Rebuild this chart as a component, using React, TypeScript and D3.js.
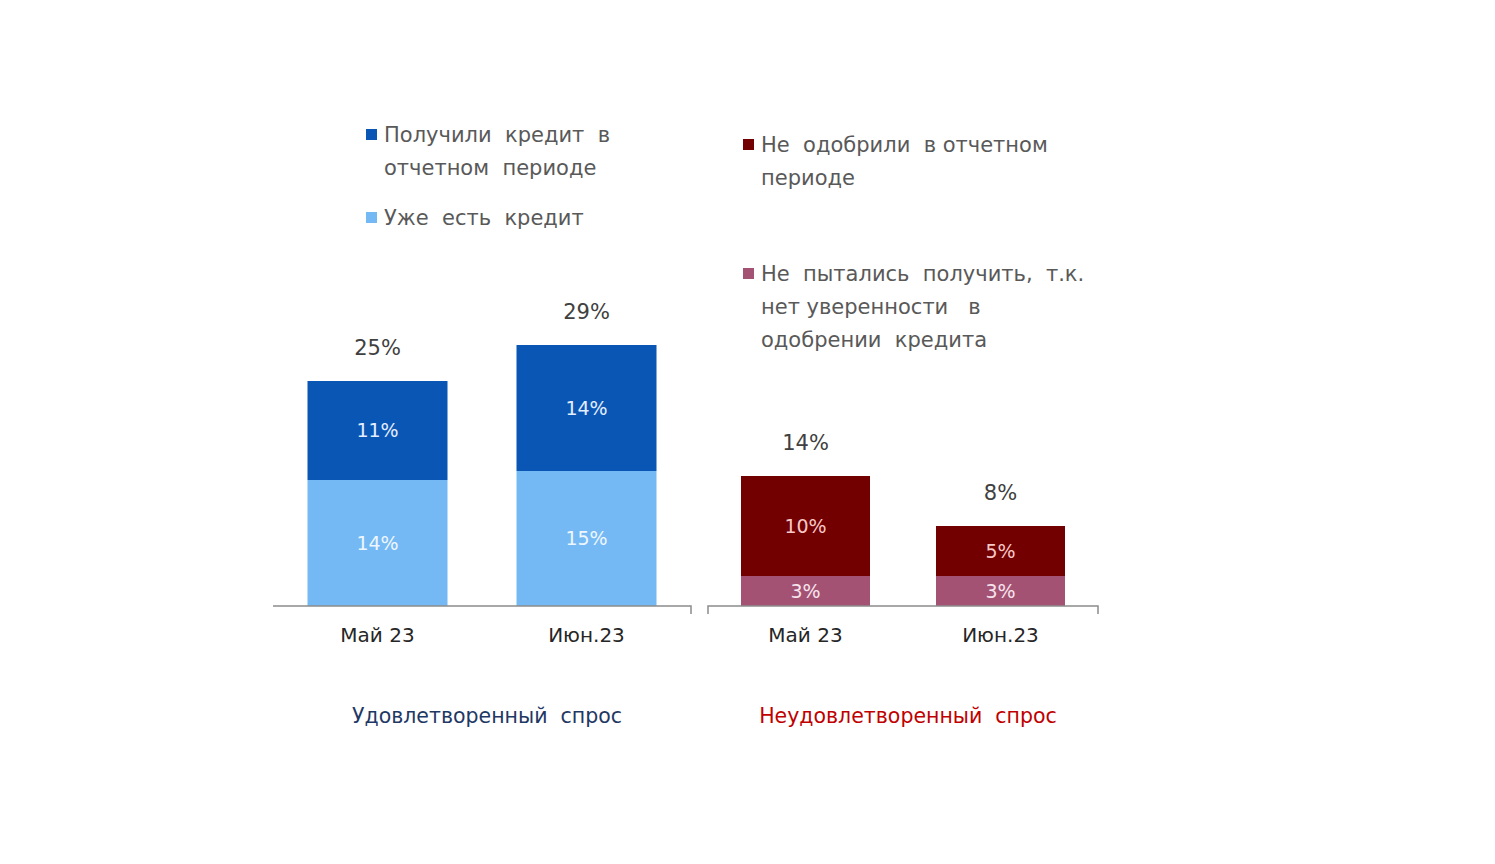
import React from "react";
import * as d3 from "d3";

// categories
const months = ["Май 23", "Июн.23"];

// satisfied demand (blue), %
const gotCredit = [11, 14];
const alreadyHave = [14, 15];
const satisfiedTotal = [25, 29];

// unsatisfied demand (red), %
const notApproved = [10, 5];
const didNotTry = [3, 3];
const unsatisfiedTotal = [14, 8];

const legendLeft = [
  { color: "#0a56b5", lines: ["Получили  кредит  в", "отчетном  периоде"] },
  { color: "#74b9f4", lines: ["Уже  есть  кредит"] },
];
const legendRight = [
  { color: "#720000", lines: ["Не  одобрили  в отчетном", "периоде"] },
  { color: "#a45274", lines: ["Не  пытались  получить,  т.к.", "нет уверенности   в", "одобрении  кредита"] },
];

const FONT = "'DejaVu Sans', sans-serif";

type Panel = {
  x0: number;
  x1: number;
  barW: number;
  domainMax: number;
  rangeTop: number;
  lower: number[];
  upper: number[];
  totals: number[];
  lowerColor: string;
  upperColor: string;
  lowerText: string;
  upperText: string;
  tickLeft: boolean;
};

const baseY = 606;

const StackPanel = ({ p }: { p: Panel }) => {
  const x = d3.scalePoint<string>().domain(months).range([p.x0, p.x1]).padding(0.5);
  const y = d3.scaleLinear().domain([0, p.domainMax]).range([baseY, p.rangeTop]);
  const stackData = months.map((m, i) => ({ m, lower: p.lower[i], upper: p.upper[i] }));
  const series = d3.stack<any>().keys(["lower", "upper"])(stackData);
  return (
    <g>
      {series.map((s, si) =>
        s.map((d, i) => (
          <g key={`${si}-${i}`}>
            <rect
              x={(x(months[i]) as number) - p.barW / 2}
              y={y(d[1])}
              width={p.barW}
              height={y(d[0]) - y(d[1])}
              fill={si === 0 ? p.lowerColor : p.upperColor}
            />
            <text
              x={x(months[i]) as number}
              y={(y(d[0]) + y(d[1])) / 2}
              dy="0.35em"
              textAnchor="middle"
              fontFamily={FONT}
              fontSize={19}
              fill={si === 0 ? p.lowerText : p.upperText}
            >
              {(d[1] - d[0]) + "%"}
            </text>
          </g>
        ))
      )}
      {months.map((m, i) => (
        <text
          key={"t" + m}
          x={x(m) as number}
          y={y(p.lower[i] + p.upper[i]) - 33}
          dy="0.35em"
          textAnchor="middle"
          fontFamily={FONT}
          fontSize={21}
          fill="#404040"
        >
          {p.totals[i] + "%"}
        </text>
      ))}
      <path
        d={`M${p.x0},${p.tickLeft ? baseY + 8 : baseY}V${baseY}H${p.x1}V${baseY + 8}`}
        fill="none"
        stroke="#8c8c8c"
        strokeWidth={1.5}
      />
      {months.map((m) => (
        <text
          key={"c" + m}
          x={x(m) as number}
          y={635}
          dy="0.35em"
          textAnchor="middle"
          fontFamily={FONT}
          fontSize={20}
          fill="#262626"
        >
          {m}
        </text>
      ))}
    </g>
  );
};

const Legend = ({ items, x, ys }: { items: typeof legendLeft; x: number; ys: number[] }) => (
  <g>
    {items.map((it, i) => (
      <g key={i}>
        <rect x={x} y={ys[i] - 6} width={11} height={11} fill={it.color} />
        {it.lines.map((l, j) => (
          <text
            key={j}
            x={x + 18}
            y={ys[i] + j * 33}
            dy="0.35em"
            fontFamily={FONT}
            fontSize={21}
            fill="#595959"
            style={{ whiteSpace: "pre" }}
          >
            {l}
          </text>
        ))}
      </g>
    ))}
  </g>
);

export default function App() {
  const left: Panel = {
    x0: 273,
    x1: 691,
    barW: 140,
    domainMax: 25,
    rangeTop: 381,
    lower: alreadyHave,
    upper: gotCredit,
    totals: satisfiedTotal,
    lowerColor: "#74b9f4",
    upperColor: "#0a56b5",
    lowerText: "#eef6ff",
    upperText: "#e4eeff",
    tickLeft: false,
  };
  const right: Panel = {
    x0: 708,
    x1: 1098,
    barW: 129,
    domainMax: 10,
    rangeTop: 506,
    lower: didNotTry,
    upper: notApproved,
    totals: unsatisfiedTotal,
    lowerColor: "#a45274",
    upperColor: "#720000",
    lowerText: "#f6e4ec",
    upperText: "#f7c8c8",
    tickLeft: true,
  };
  return (
    <svg width={1479} height={848} style={{ display: "block", margin: "-8px" }} viewBox="0 0 1479 848">
      <rect width={1495} height={864} fill="#fff" />
      <Legend items={legendLeft} x={366} ys={[135, 218]} />
      <Legend items={legendRight} x={743} ys={[145, 274]} />
      <StackPanel p={left} />
      <StackPanel p={right} />
      <text x={487} y={716} dy="0.35em" textAnchor="middle" fontFamily={FONT} fontSize={20.5} fill="#1f3864" style={{ whiteSpace: "pre" }}>
        Удовлетворенный  спрос
      </text>
      <text x={908} y={716} dy="0.35em" textAnchor="middle" fontFamily={FONT} fontSize={20.5} fill="#c00000" style={{ whiteSpace: "pre" }}>
        Неудовлетворенный  спрос
      </text>
    </svg>
  );
}
